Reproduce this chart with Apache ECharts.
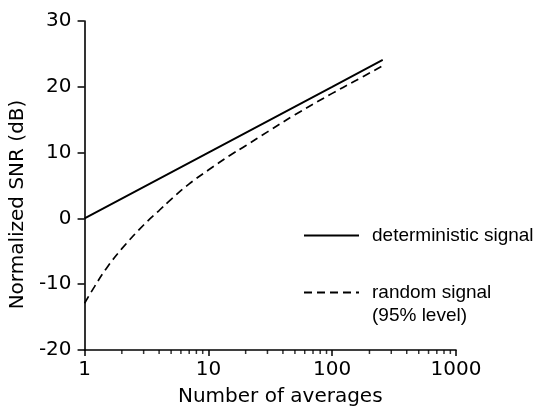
<!DOCTYPE html>
<html>
<head>
<meta charset="utf-8">
<script src="https://cdn.jsdelivr.net/npm/echarts@6/dist/echarts.min.js"></script>
<style>
html,body{margin:0;padding:0;background:#fff;}
#chart{width:535px;height:412px;}
</style>
</head>
<body>
<div id="chart"></div>
<script>
// Number of averages and normalized SNR (dB)
var detN = [1, 10, 100, 256];
var detSNR = [0, 10, 20, 24.1];
var randN = [1, 1.2, 1.5, 2, 3, 4, 5, 7, 10, 15, 20, 30, 50, 100, 150, 256];
var randSNR = [-12.9, -10.4, -7.6, -4.6, -1.0, 1.2, 2.9, 5.25, 7.35, 9.6, 11.05, 13.15, 15.75, 19.0, 20.8, 23.2];
var minorTickN = [2, 3, 4, 5, 6, 7, 8, 9, 20, 30, 40, 50, 60, 70, 80, 90, 200, 300, 400, 500, 600, 700, 800, 900];
var yTicks = { min: -20, max: 30, interval: 10 };
var xRange = { min: 1, max: 1000 };
var seriesNames = ['deterministic signal', 'random signal\n(95% level)'];

function zip(a, b) { return a.map(function (v, i) { return [v, b[i]]; }); }

var chart = echarts.init(document.getElementById('chart'), null, { renderer: 'canvas' });
var axisFont = 'DejaVu Sans';
var ink = '#000';
var clear = 'rgba(0,0,0,0)';
chart.setOption({
  animation: false,
  backgroundColor: '#fff',
  grid: { left: 82, right: 79, top: 21, bottom: 58, containLabel: false },
  xAxis: {
    type: 'log', logBase: 10, min: xRange.min, max: xRange.max,
    name: 'Number of averages', nameLocation: 'middle', nameGap: 37,
    nameTextStyle: { fontFamily: axisFont, fontSize: 20, color: ink, padding: [0, 0, 0, 20] },
    axisLine: { onZero: false, lineStyle: { color: ink, width: 1.6 } },
    axisTick: { show: true, length: 6, lineStyle: { color: ink, width: 1.5 } },
    axisLabel: { fontFamily: axisFont, fontSize: 20, color: ink, margin: 10,
      formatter: function (v) { return String(v); } },
    splitLine: { show: false }
  },
  yAxis: {
    type: 'value', min: yTicks.min, max: yTicks.max, interval: yTicks.interval,
    name: 'Normalized SNR (dB)', nameLocation: 'middle', nameGap: 54, nameRotate: 90,
    nameTextStyle: { fontFamily: axisFont, fontSize: 20, color: ink, padding: [0, 38, 0, 0] },
    axisLine: { show: true, onZero: false, lineStyle: { color: ink, width: 1.6 } },
    axisTick: { show: true, length: 7, lineStyle: { color: ink, width: 1.5 } },
    axisLabel: { fontFamily: axisFont, fontSize: 20, color: ink, margin: 13 },
    splitLine: { show: false }
  },
  legend: [
    {
      data: [seriesNames[0]], orient: 'vertical', left: 303, top: 226, padding: 0,
      itemWidth: 55, itemHeight: 14, selectedMode: false,
      itemStyle: { color: clear, borderColor: clear, borderWidth: 0 },
      textStyle: { fontFamily: 'Liberation Sans', fontSize: 19, color: ink, padding: [0, 0, 0, 8] }
    },
    {
      data: [seriesNames[1]], orient: 'vertical', left: 303, top: 258, padding: 0,
      itemWidth: 55, itemHeight: 14, selectedMode: false,
      itemStyle: { color: clear, borderColor: clear, borderWidth: 0 },
      formatter: function (n) { return '\n' + n; },
      textStyle: { fontFamily: 'Liberation Sans', fontSize: 19, color: ink, lineHeight: 23, padding: [0, 0, 0, 8] }
    }
  ],
  series: [
    {
      name: seriesNames[0], type: 'line', data: zip(detN, detSNR),
      symbol: 'none', lineStyle: { color: ink, width: 1.9, type: 'solid' }, itemStyle: { color: ink }
    },
    {
      name: seriesNames[1], type: 'line', data: zip(randN, randSNR), smooth: 0.4,
      symbol: 'none', lineStyle: { color: ink, width: 1.7, type: [8, 5] }, itemStyle: { color: ink }
    },
    {
      name: 'minorTicks', type: 'scatter', silent: true, clip: false,
      data: minorTickN.map(function (n) { return [n, yTicks.min]; }),
      symbol: 'rect', symbolSize: [1.5, 4], symbolOffset: [0, 2],
      itemStyle: { color: ink }
    }
  ]
});
</script>
</body>
</html>
